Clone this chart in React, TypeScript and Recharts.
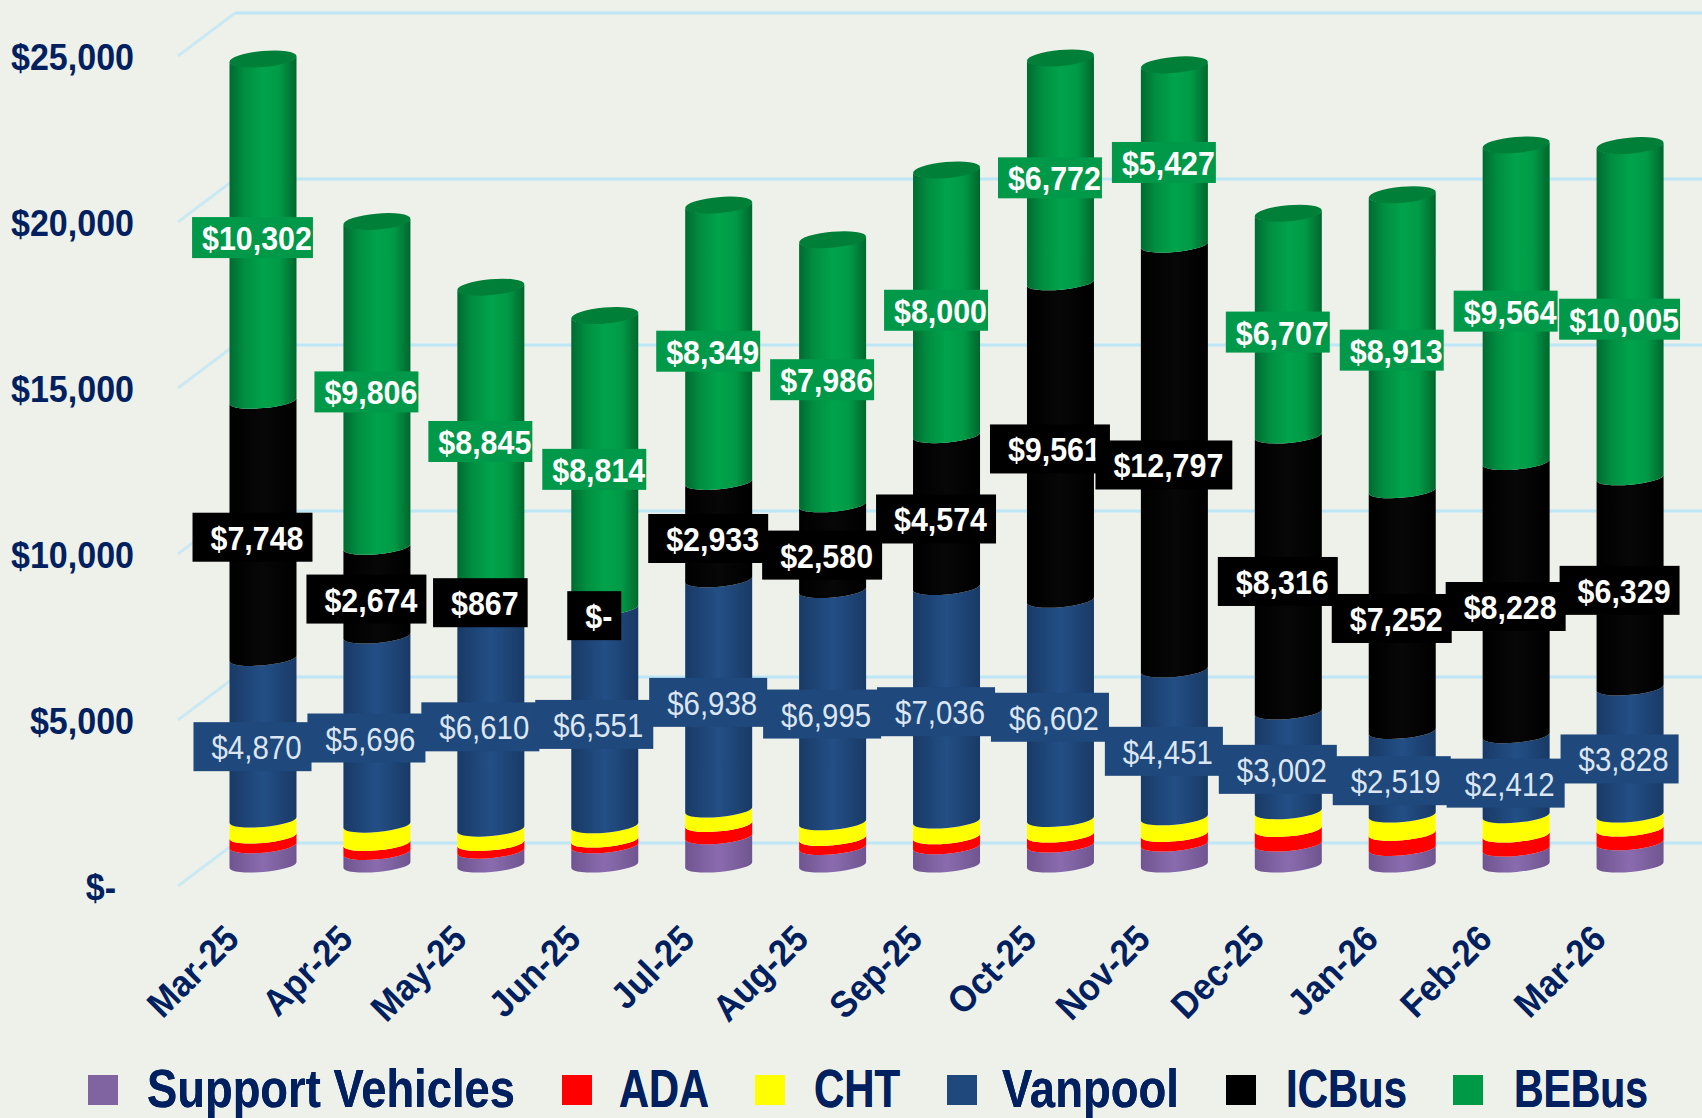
import React from "react";
import { ComposedChart, Bar, XAxis, YAxis, CartesianGrid, LabelList, Legend } from "recharts";

const months = ["Mar-25","Apr-25","May-25","Jun-25","Jul-25","Aug-25","Sep-25","Oct-25","Nov-25","Dec-25","Jan-26","Feb-26","Mar-26"];
const supportVehicles = [582,380,420,582,853,532,552,602,632,632,502,482,672];
const ada = [291,271,231,171,371,271,301,301,291,442,452,422,412];
const cht = [482,552,432,432,432,472,472,472,502,532,552,582,422];
const vanpool = [4870,5696,6610,6551,6938,6995,7036,6602,4451,3002,2519,2412,3828];
const icBus = [7748,2674,867,0,2933,2580,4574,9561,12797,8316,7252,8228,6329];
const beBus = [10302,9806,8845,8814,8349,7986,8000,6772,5427,6707,8913,9564,10005];
const yTicks = [0,5000,10000,15000,20000,25000];

const data = months.map((m, i) => ({
  month: m,
  "Support Vehicles": supportVehicles[i],
  ADA: ada[i],
  CHT: cht[i],
  Vanpool: vanpool[i],
  ICBus: icBus[i],
  BEBus: beBus[i],
}));

const NAVY = "#002060";
const BG = "#EEF1EA";
const FONT = "'Liberation Sans', Arial, sans-serif";
const GRID = "#BDE6F6";

const fills: Record<string, string> = {
  "Support Vehicles": "#8064A2",
  ADA: "#FF0000",
  CHT: "#FFFF00",
  Vanpool: "#1F497D",
  ICBus: "#000000",
  BEBus: "#009A46",
};
const gradIds: Record<string, string> = {
  "Support Vehicles": "url(#gPurple)",
  ADA: "#FF0000",
  CHT: "#FFFF00",
  Vanpool: "url(#gBlue)",
  ICBus: "url(#gBlack)",
  BEBus: "url(#gGreen)",
};
const seriesKeys = ["Support Vehicles","ADA","CHT","Vanpool","ICBus","BEBus"];

const fmt = (v: number) => (v === 0 ? "$-" : "$" + v.toLocaleString("en-US"));
const emWidth = (s: string) => {
  let w = 0;
  for (const c of s) w += c === "," ? 0.278 : c === "-" ? 0.333 : 0.556;
  return w;
};

const TILT = 3;
const RY = 7;

function cylinder(key: string) {
  return (p: any) => {
    const { x, y, width, height } = p;
    if (!height && key !== "BEBus") return <g />;
    const rx = Math.sqrt((width / 2) ** 2 + TILT ** 2);
    const rot = -5.1;
    const yB = y + height;
    const d = `M${x},${y + TILT} A${rx},${RY} ${rot} 0 0 ${x + width},${y - TILT} L${x + width},${yB - TILT} A${rx},${RY} ${rot} 0 1 ${x},${yB + TILT} Z`;
    return (
      <g>
        <path d={d} fill={gradIds[key]} />
        {key === "BEBus" && (
          <ellipse
            cx={x + width / 2}
            cy={y}
            rx={rx}
            ry={8}
            transform={`rotate(${rot} ${x + width / 2} ${y})`}
            fill="#007F38"
          />
        )}
      </g>
    );
  };
}

function valueLabel(key: string) {
  return (p: any) => {
    const { x, y, width, height, value } = p;
    const s = fmt(Number(value));
    const cx = x + width / 2 - 10.5;
    const cy = y + height / 2 + 7.5;
    const green = key === "BEBus";
    const blue = key === "Vanpool";
    const tw = emWidth(s) * 32 * (blue ? 0.92 : 0.95);
    const padL = green ? 10 : 18;
    const w = tw + (green ? 11 : blue ? 28 : 27);
    const h = green ? 41 : 49;
    const left = cx - w / 2;
    return (
      <g>
        <rect x={left} y={cy - h / 2} width={w} height={h} fill={green ? "#00994A" : fills[key]} />
        <text
          x={left + padL}
          y={cy + 12.5}
          fontFamily={FONT}
          fontSize={34}
          fontWeight={blue ? 400 : 700}
          fill={blue ? "#DCE6F2" : "#FFFFFF"}
          textLength={tw}
          lengthAdjust="spacingAndGlyphs"
        >
          {s}
        </text>
      </g>
    );
  };
}

const YTick = (p: any) => {
  const v = p.payload.value;
  const tx = v === 0 ? 116 : 134;
  const ty = p.y + 35;
  return (
    <text
      transform={`translate(${tx} ${ty}) scale(0.92 1)`}
      x={0}
      y={0}
      textAnchor="end"
      fontFamily={FONT}
      fontSize={37}
      fontWeight={700}
      fill={NAVY}
    >
      {fmt(v)}
    </text>
  );
};

const XTick = (p: any) => {
  const ax = p.x - 22.5;
  const ay = p.y + 76;
  return (
    <text
      x={0}
      y={0}
      textAnchor="end"
      transform={`translate(${ax} ${ay}) rotate(-45) scale(0.93 1)`}
      fontFamily={FONT}
      fontSize={37}
      fontWeight={700}
      fill={NAVY}
    >
      {p.payload.value}
    </text>
  );
};

const gridLine = (p: any) => {
  const { x1, y1, key } = p;
  const back = y1 - 22;
  return (
    <g key={key ?? y1}>
      <line x1={235} y1={back} x2={1702} y2={back} stroke={GRID} strokeWidth={3} />
      <line x1={178} y1={y1 + 21} x2={235} y2={back} stroke="#CBE9F3" strokeWidth={3} />
    </g>
  );
};

const legendX = [88, 562, 755, 947, 1226, 1453];
const legendTextX = [147, 619, 814, 1002, 1286, 1514];
const legendTextW = [368, 90, 86, 177, 121, 134];

const renderLegend = (props: any) => {
  const items = props.payload ?? [];
  return (
    <svg width={1702} height={68} style={{ display: "block" }}>
      {items.map((it: any) => {
        const i = seriesKeys.indexOf(it.value);
        return (
          <g key={it.value}>
            <rect x={legendX[i]} y={25} width={30} height={30} fill={fills[it.value] ?? it.color} />
            <text
              x={legendTextX[i]}
              y={57}
              fontFamily={FONT}
              fontSize={53}
              fontWeight={700}
              fill={NAVY}
              textLength={legendTextW[i]}
              lengthAdjust="spacingAndGlyphs"
            >
              {it.value}
            </text>
          </g>
        );
      })}
    </svg>
  );
};

export default function App() {
  return (
    <div style={{ position: "absolute", left: 0, top: 0, width: 1702, height: 1118, background: BG, overflow: "hidden" }}>
      <ComposedChart
        width={1702}
        height={1118}
        data={data}
        margin={{ top: 35, right: 14.5, bottom: 153, left: 0 }}
        barCategoryGap={0}
      >
        <defs>
          <linearGradient id="gGreen" x1="0" y1="0" x2="1" y2="0">
            <stop offset="0" stopColor="#006B30" />
            <stop offset="0.22" stopColor="#008E41" />
            <stop offset="0.5" stopColor="#00A34B" />
            <stop offset="0.75" stopColor="#009A46" />
            <stop offset="1" stopColor="#00662D" />
          </linearGradient>
          <linearGradient id="gBlue" x1="0" y1="0" x2="1" y2="0">
            <stop offset="0" stopColor="#193A66" />
            <stop offset="0.5" stopColor="#234F86" />
            <stop offset="1" stopColor="#193A66" />
          </linearGradient>
          <linearGradient id="gBlack" x1="0" y1="0" x2="1" y2="0">
            <stop offset="0" stopColor="#000000" />
            <stop offset="0.5" stopColor="#070707" />
            <stop offset="1" stopColor="#000000" />
          </linearGradient>
          <linearGradient id="gPurple" x1="0" y1="0" x2="1" y2="0">
            <stop offset="0" stopColor="#6F5590" />
            <stop offset="0.5" stopColor="#8A6CAE" />
            <stop offset="1" stopColor="#6F5590" />
          </linearGradient>
        </defs>
        <CartesianGrid vertical={false} horizontal={gridLine} />
        <XAxis
          dataKey="month"
          height={100}
          interval={0}
          axisLine={false}
          tickLine={false}
          tickSize={0}
          tickMargin={0}
          tick={XTick}
        />
        <XAxis dataKey="month" xAxisId="labels" hide />
        <YAxis
          width={206.5}
          domain={[0, 25000]}
          ticks={yTicks}
          axisLine={false}
          tickLine={false}
          tick={YTick}
        />
        {seriesKeys.map((k) => (
          <Bar
            key={k}
            dataKey={k}
            stackId="a"
            barSize={67}
            fill={fills[k]}
            shape={cylinder(k)}
            isAnimationActive={false}
          />
        ))}
        {seriesKeys.map((k) => (
          <Bar
            key={"lbl" + k}
            dataKey={k}
            xAxisId="labels"
            stackId="b"
            barSize={67}
            fill="transparent"
            legendType="none"
            shape={() => <g />}
            isAnimationActive={false}
          >
            {seriesKeys.indexOf(k) >= 3 && <LabelList dataKey={k} content={valueLabel(k)} />}
          </Bar>
        ))}
        <Legend
          layout="horizontal"
          verticalAlign="middle"
          align="center"
          width={1702}
          content={renderLegend}
          wrapperStyle={{ left: 0, top: 1050, width: 1702, height: 68 }}
        />
      </ComposedChart>
    </div>
  );
}
